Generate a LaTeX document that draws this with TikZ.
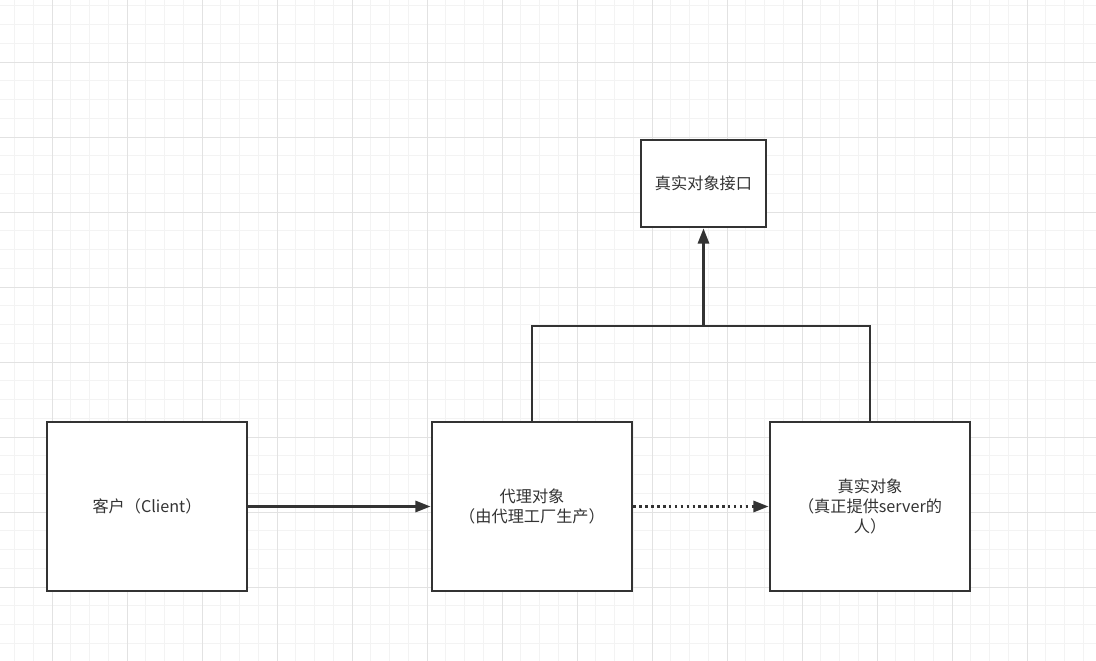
\documentclass[tikz,border=0pt]{standalone}
\usepackage{fontspec}
\newfontfamily\cjk{Noto Sans CJK SC}
\usetikzlibrary{arrows.meta}
\definecolor{inkgray}{HTML}{333333}
\definecolor{gridminor}{HTML}{F3F3F3}
\definecolor{gridmajor}{HTML}{E2E2E2}
\tikzset{
  block/.style={draw=inkgray,line width=2pt,fill=white,text=inkgray,align=center,font=\cjk\fontsize{11.5}{14.2}\selectfont},
  link/.style={draw=inkgray,line width=1.7pt,-{Triangle[length=3.8mm,width=2.8mm]}}
}

\begin{document}
\begin{tikzpicture}[x=0.025cm,y=-0.025cm]
\useasboundingbox (0,0) rectangle (1096,661);
\fill[white] (0,0) rectangle (1096,661);
% background grid
\foreach \gx in {14.5,33.25,...,1096} \draw[gridminor,line width=0.5pt] (\gx,0) -- (\gx,661);
\foreach \gy in {5.75,24.5,...,661} \draw[gridminor,line width=0.5pt] (0,\gy) -- (1096,\gy);
\foreach \gx in {52,127,...,1096} \draw[gridmajor,line width=0.6pt] (\gx,0) -- (\gx,661);
\foreach \gy in {62,137,...,661} \draw[gridmajor,line width=0.6pt] (0,\gy) -- (1096,\gy);

\node[block,minimum width=5cm,minimum height=4.225cm] (client) at (147,506.5) {客户（Client）};
\node[block,minimum width=5cm,minimum height=4.225cm] (proxy) at (532,506.5) {代理对象\\（由代理工厂生产）};
\node[block,minimum width=5cm,minimum height=4.225cm] (real) at (870,506.5) {真实对象\\（真正提供server的\\人）};
\node[block,minimum width=3.125cm,minimum height=2.175cm] (iface) at (703.5,183.5) {真实对象接口};

\coordinate (joint) at (703.5,326);
\draw[link] (client) -- (proxy);
\draw[link,dash pattern=on 1.8pt off 2.4pt] (proxy) -- (real);
\draw[draw=inkgray,line width=1.7pt] (proxy.north) |- (joint) -| (real.north);
\draw[link] (joint) -- (iface);
\end{tikzpicture}
\end{document}
